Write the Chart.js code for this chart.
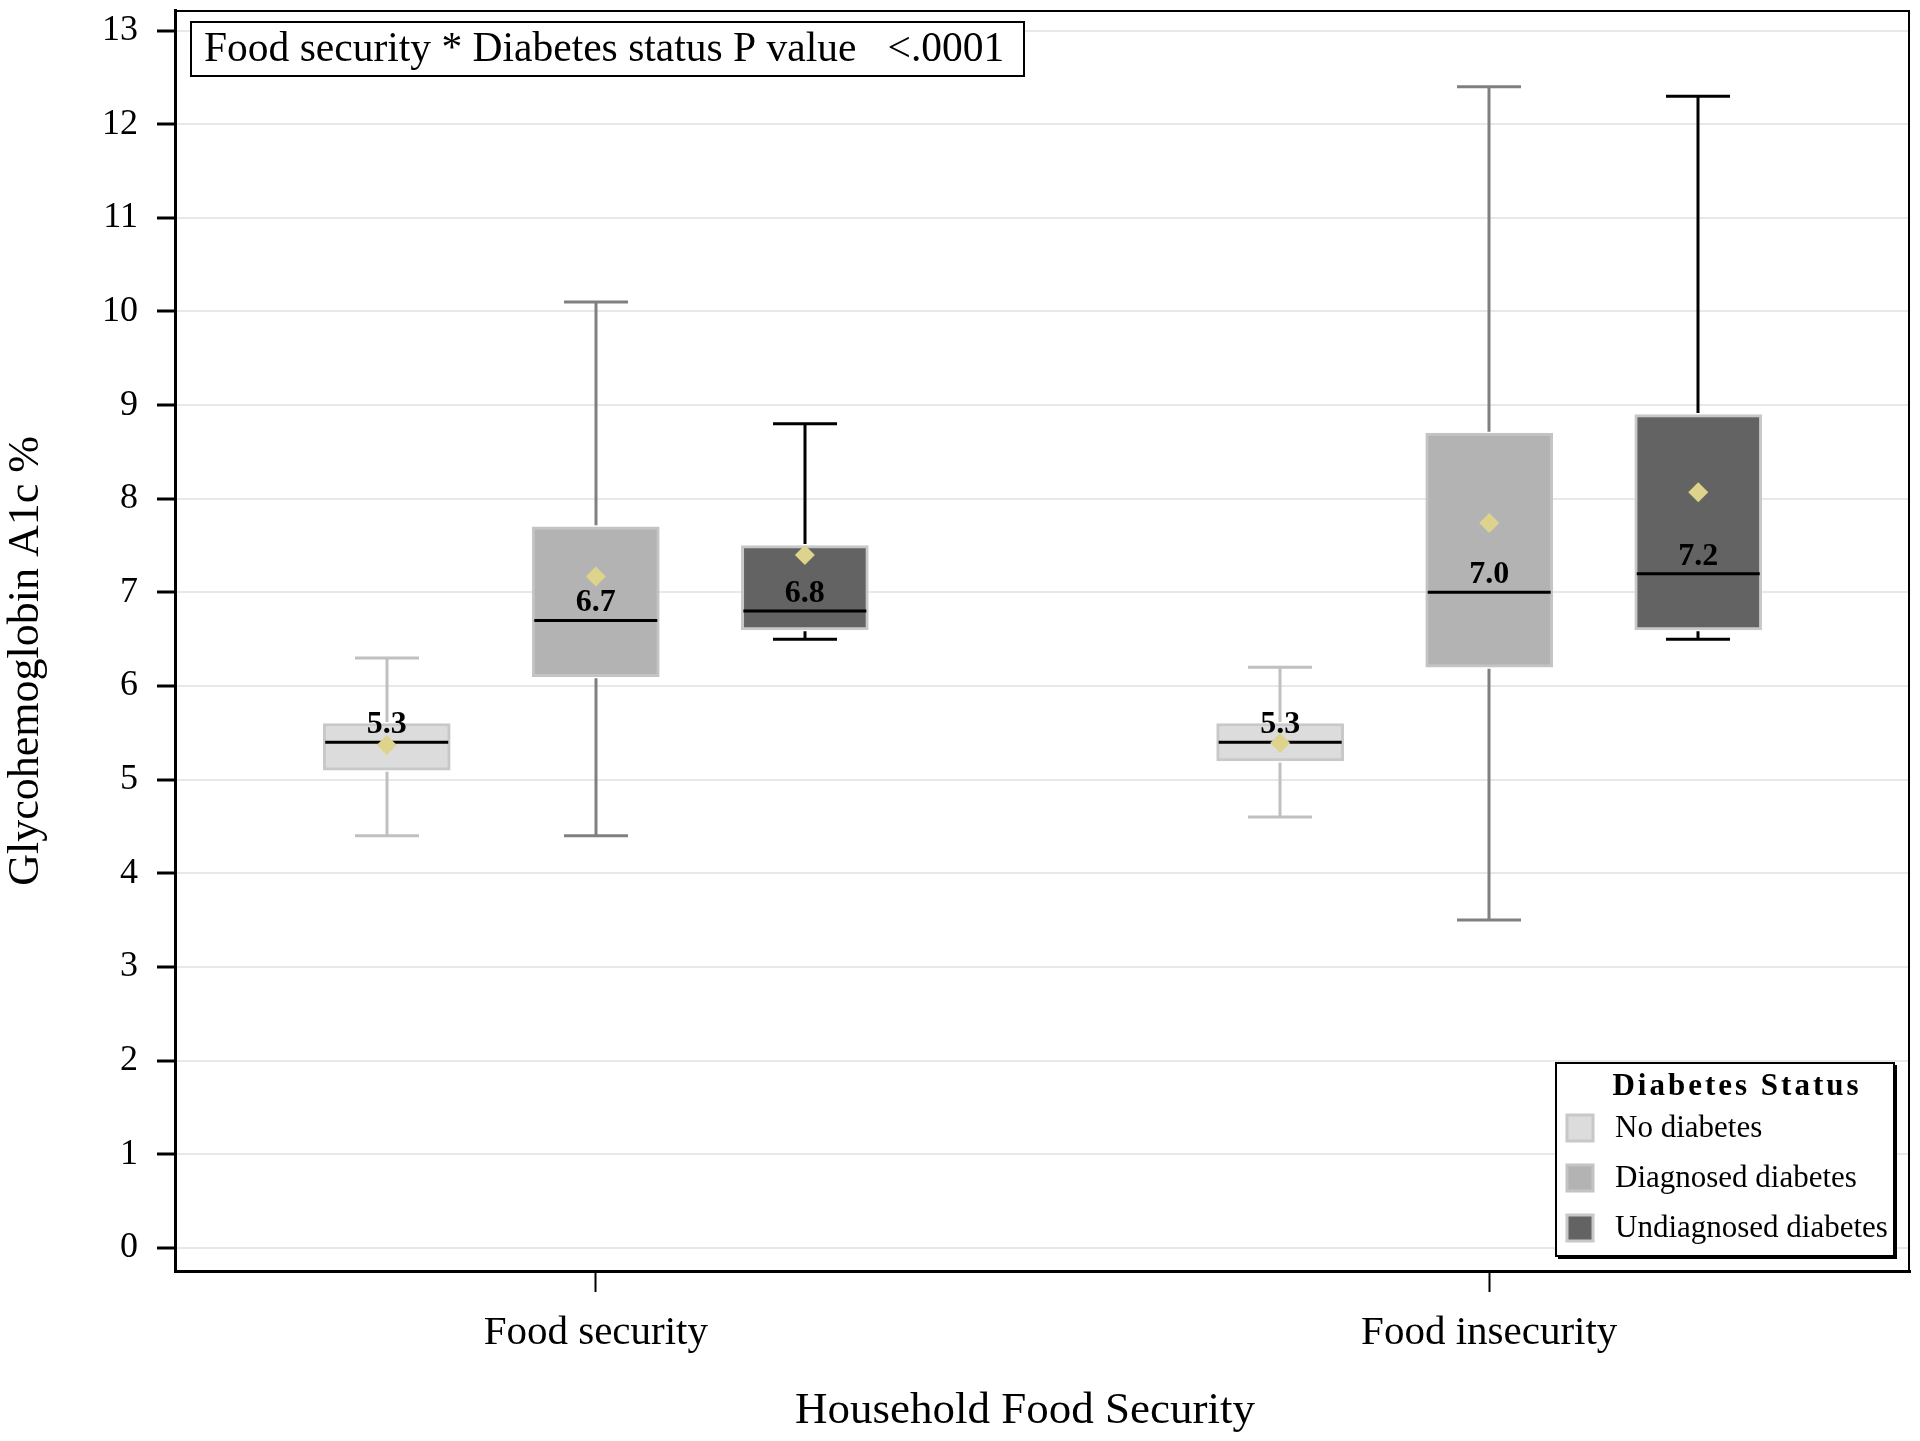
<!DOCTYPE html>
<html>
<head>
<meta charset="utf-8">
<script src="https://cdn.jsdelivr.net/npm/chart.js@4.4.1/dist/chart.umd.min.js"></script>
<style>
  html, body { margin: 0; padding: 0; background: #ffffff; }
  canvas { display: block; }
</style>
</head>
<body>
<canvas id="chart" width="1920" height="1441" style="width:1920px;height:1441px"></canvas>
<script>
// ---------------- DATA ----------------
const categories = ['Food security', 'Food insecurity'];
const seriesNames = ['No diabetes', 'Diagnosed diabetes', 'Undiagnosed diabetes'];
// five-number summaries per category: [min, q1, median, q3, max]
const noDiabetesStats = [[4.4, 5.1, 5.4, 5.6, 6.3], [4.6, 5.2, 5.4, 5.6, 6.2]];
const diagnosedStats = [[4.4, 6.1, 6.7, 7.7, 10.1], [3.5, 6.2, 7.0, 8.7, 12.4]];
const undiagnosedStats = [[6.5, 6.6, 6.8, 7.5, 8.8], [6.5, 6.6, 7.2, 8.9, 12.3]];
// means per category
const noDiabetesMeans = [5.37, 5.39];
const diagnosedMeans = [7.17, 7.74];
const undiagnosedMeans = [7.40, 8.07];
// median labels printed on the boxes
const noDiabetesLabels = ['5.3', '5.3'];
const diagnosedLabels = ['6.7', '7.0'];
const undiagnosedLabels = ['6.8', '7.2'];
// axis ticks and texts
const yTicks = [0, 1, 2, 3, 4, 5, 6, 7, 8, 9, 10, 11, 12, 13];
const xTitle = 'Household Food Security';
const yTitle = 'Glycohemoglobin A1c %';
const legendTitle = 'Diabetes Status';
const annotationText = 'Food security * Diabetes status P value   <.0001';

// ---------------- STYLE / LAYOUT ----------------
const SERIF = "'Liberation Serif', 'Times New Roman', 'DejaVu Serif', serif";
const allStats = [noDiabetesStats, diagnosedStats, undiagnosedStats];
const allMeans = [noDiabetesMeans, diagnosedMeans, undiagnosedMeans];
const allLabels = [noDiabetesLabels, diagnosedLabels, undiagnosedLabels];
const seriesStyle = [
  { fill: 'rgb(220,220,220)', border: 'rgb(200,200,200)', whisker: 'rgb(192,192,192)' },
  { fill: 'rgb(179,179,179)', border: 'rgb(196,196,196)', whisker: 'rgb(128,128,128)' },
  { fill: 'rgb(99,99,99)',    border: 'rgb(200,200,200)', whisker: 'rgb(0,0,0)' }
];
const groupShift = [-0.234, 0, 0.234];
const meanColor = 'rgb(221,211,140)';
const BOX_W = 127;
const CAP_W = 64;

const datasets = [];
seriesNames.forEach((name, i) => {
  datasets.push({
    type: 'bar',
    label: name,
    seriesIndex: i,
    order: 2,
    data: categories.map((c, j) => ({ x: j + groupShift[i], y: [allStats[i][j][1], allStats[i][j][3]] })),
    backgroundColor: seriesStyle[i].fill,
    borderColor: seriesStyle[i].border,
    borderWidth: 3,
    borderSkipped: false,
    grouped: false,
    barThickness: BOX_W
  });
});
seriesNames.forEach((name, i) => {
  datasets.push({
    type: 'scatter',
    label: name + ' mean',
    order: 1,
    data: categories.map((c, j) => ({ x: j + groupShift[i], y: allMeans[i][j] })),
    pointStyle: 'rectRot',
    pointRadius: 10,
    pointHoverRadius: 10,
    backgroundColor: meanColor,
    borderColor: meanColor,
    borderWidth: 0,
    showLine: false
  });
});

const boxExtras = {
  id: 'boxExtras',
  afterDatasetDraw(chart, args) {
    const ds = chart.data.datasets[args.index];
    if (ds.type !== 'bar') return;
    const i = ds.seriesIndex;
    const ctx = chart.ctx;
    const y = chart.scales.y;
    const meta = args.meta;
    ctx.save();
    meta.data.forEach((el, j) => {
      const s = allStats[i][j];
      const cx = Math.round(el.x);
      const pMin = y.getPixelForValue(s[0]);
      const pQ1 = y.getPixelForValue(s[1]);
      const pMed = y.getPixelForValue(s[2]);
      const pQ3 = y.getPixelForValue(s[3]);
      const pMax = y.getPixelForValue(s[4]);
      // whiskers
      ctx.strokeStyle = seriesStyle[i].whisker;
      ctx.lineWidth = 3;
      ctx.beginPath();
      ctx.moveTo(cx, pQ3 - 1.5); ctx.lineTo(cx, pMax);
      ctx.moveTo(cx - CAP_W / 2, pMax); ctx.lineTo(cx + CAP_W / 2, pMax);
      ctx.moveTo(cx, pQ1 + 1.5); ctx.lineTo(cx, pMin);
      ctx.moveTo(cx - CAP_W / 2, pMin); ctx.lineTo(cx + CAP_W / 2, pMin);
      ctx.stroke();
      // median
      ctx.strokeStyle = '#000';
      ctx.lineWidth = 3;
      ctx.beginPath();
      ctx.moveTo(el.x - el.width / 2 + 2, pMed);
      ctx.lineTo(el.x + el.width / 2 - 2, pMed);
      ctx.stroke();
    });
    ctx.restore();
  },
  afterDraw(chart) {
    const ctx = chart.ctx;
    const a = chart.chartArea;
    const y = chart.scales.y;
    ctx.save();
    // frame (top & right)
    ctx.strokeStyle = '#000';
    ctx.lineWidth = 2;
    ctx.beginPath();
    ctx.moveTo(a.left, a.top + 1); ctx.lineTo(a.right - 1, a.top + 1); ctx.lineTo(a.right - 1, a.bottom);
    ctx.stroke();

    // axis titles
    ctx.fillStyle = '#000';
    ctx.font = '45px ' + SERIF;
    ctx.textAlign = 'center';
    ctx.textBaseline = 'middle';
    ctx.fillText(xTitle, a.left + 850, 1411);
    ctx.save();
    ctx.translate(26, a.top + 651);
    ctx.rotate(-Math.PI / 2);
    ctx.font = '44px ' + SERIF;
    ctx.fillText(yTitle, 0, 0);
    ctx.restore();

    // median labels
    ctx.fillStyle = '#000';
    ctx.font = 'bold 32px ' + SERIF;
    ctx.textAlign = 'center';
    ctx.textBaseline = 'alphabetic';
    chart.data.datasets.forEach((ds, k) => {
      if (ds.type !== 'bar') return;
      const i = ds.seriesIndex;
      const meta = chart.getDatasetMeta(k);
      meta.data.forEach((el, j) => {
        const pMed = y.getPixelForValue(allStats[i][j][2]);
        ctx.fillText(allLabels[i][j], el.x, pMed - 9);
      });
    });

    // annotation box
    const bx = a.left + 16, by = a.top + 12, bw = 833, bh = 54;
    ctx.fillStyle = '#fff';
    ctx.fillRect(bx, by, bw, bh);
    ctx.strokeStyle = '#000';
    ctx.lineWidth = 2;
    ctx.strokeRect(bx, by, bw, bh);
    ctx.fillStyle = '#000';
    ctx.font = '41.5px ' + SERIF;
    ctx.textAlign = 'left';
    ctx.textBaseline = 'middle';
    ctx.fillText(annotationText, bx + 13, by + bh / 2 + 1);

    // legend
    const lw = 338, lh = 193;
    const lx = a.right - 16 - lw, ly = a.bottom - 15 - lh;
    ctx.fillStyle = '#fff';
    ctx.fillRect(lx, ly, lw, lh);
    ctx.strokeStyle = '#000';
    ctx.lineWidth = 2;
    ctx.strokeRect(lx, ly, lw, lh);
    ctx.beginPath();
    ctx.moveTo(lx + 2, ly + lh + 2); ctx.lineTo(lx + lw + 2, ly + lh + 2); ctx.lineTo(lx + lw + 2, ly + 2);
    ctx.stroke();
    ctx.fillStyle = '#000';
    ctx.font = 'bold 31px ' + SERIF;
    ctx.textAlign = 'center';
    ctx.textBaseline = 'middle';
    try { ctx.letterSpacing = '3px'; } catch (e) {}
    ctx.fillText(legendTitle, lx + 181, ly + 24);
    try { ctx.letterSpacing = '0px'; } catch (e) {}
    ctx.font = '31px ' + SERIF;
    ctx.textAlign = 'left';
    seriesNames.forEach((name, i) => {
      const cy = ly + 65 + i * 50;
      ctx.fillStyle = seriesStyle[i].fill;
      ctx.fillRect(lx + 11, cy - 13, 26, 26);
      ctx.strokeStyle = seriesStyle[i].border;
      ctx.lineWidth = 3;
      ctx.strokeRect(lx + 11, cy - 13, 26, 26);
      ctx.fillStyle = '#000';
      ctx.fillText(name, lx + 59, cy + 1);
    });
    ctx.restore();
  }
};

new Chart(document.getElementById('chart'), {
  type: 'bar',
  data: { datasets },
  plugins: [boxExtras],
  options: {
    responsive: false,
    animation: false,
    devicePixelRatio: 1,
    layout: { padding: { top: 10, right: 9, left: 0, bottom: 0 } },
    plugins: {
      legend: { display: false },
      tooltip: { enabled: false },
      title: { display: false }
    },
    scales: {
      x: {
        type: 'linear',
        offset: false,
        min: -0.471,
        max: 1.471,
        afterBuildTicks: (scale) => { scale.ticks = categories.map((c, j) => ({ value: j })); },
        afterFit: (scale) => { scale.height = 170; scale.paddingLeft = 0; scale.paddingRight = 0; },
        ticks: {
          callback: (v) => categories[Math.round(v)],
          font: { family: SERIF, size: 41 },
          color: '#000',
          padding: 17,
          maxRotation: 0,
          autoSkip: false
        },
        grid: { offset: false, drawOnChartArea: false, drawTicks: true, tickLength: 21, tickColor: '#000', tickWidth: 2 },
        border: { display: true, color: '#000', width: 3 },
        title: { display: false, text: xTitle }
      },
      y: {
        type: 'linear',
        min: -0.248,
        max: 13.22,
        afterBuildTicks: (scale) => { scale.ticks = yTicks.map(v => ({ value: v })); },
        afterFit: (scale) => { scale.width = 175; scale.paddingTop = 0; scale.paddingBottom = 0; },
        ticks: {
          font: { family: SERIF, size: 36 },
          color: '#000',
          padding: 19,
          autoSkip: false
        },
        grid: { color: 'rgb(232,232,232)', lineWidth: 2, drawTicks: true, tickLength: 18, tickColor: '#000', tickWidth: 3 },
        border: { display: true, color: '#000', width: 3 },
        title: { display: false, text: yTitle }
      }
    }
  }
});
</script>
</body>
</html>
